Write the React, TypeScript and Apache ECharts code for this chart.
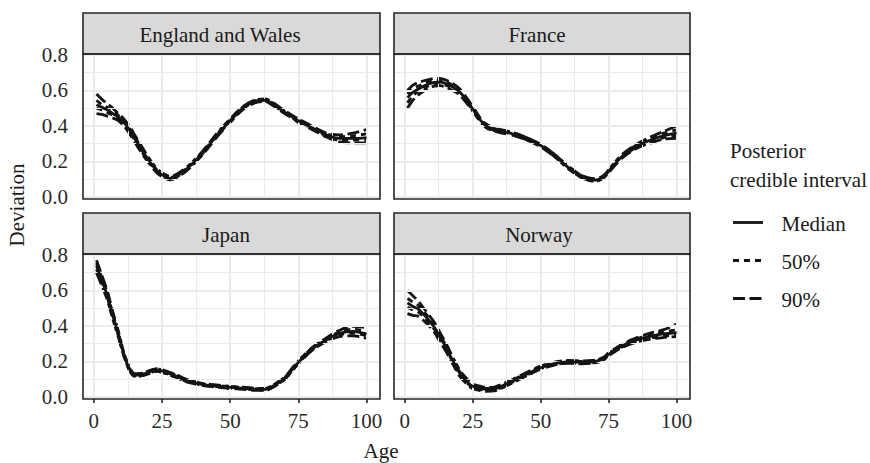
import React, { useEffect, useRef } from "react";
import * as echarts from "echarts";

// ---- data ----
const ages = [1, 3, 5, 7, 9, 11, 13, 15, 17, 20, 23, 25, 28, 30, 33, 35, 40, 45, 50, 55, 60, 63, 65, 70, 73, 75, 80, 85, 90, 95, 100];

const panelNames = ["England and Wales", "France", "Japan", "Norway"];

const ewMedian = [0.52, 0.505, 0.49, 0.47, 0.45, 0.42, 0.38, 0.33, 0.28, 0.21, 0.15, 0.125, 0.105, 0.115, 0.145, 0.17, 0.25, 0.345, 0.43, 0.505, 0.543, 0.545, 0.53, 0.478, 0.45, 0.43, 0.39, 0.352, 0.33, 0.33, 0.335];
const ewLo50 = [0.5, 0.49, 0.475, 0.46, 0.44, 0.41, 0.37, 0.32, 0.27, 0.2, 0.145, 0.12, 0.1, 0.11, 0.14, 0.165, 0.245, 0.34, 0.425, 0.5, 0.538, 0.54, 0.525, 0.473, 0.445, 0.425, 0.385, 0.345, 0.32, 0.32, 0.32];
const ewHi50 = [0.545, 0.52, 0.505, 0.485, 0.46, 0.43, 0.39, 0.34, 0.29, 0.215, 0.155, 0.13, 0.11, 0.12, 0.15, 0.175, 0.255, 0.35, 0.435, 0.51, 0.548, 0.55, 0.535, 0.483, 0.455, 0.435, 0.395, 0.358, 0.34, 0.345, 0.355];
const ewLo90 = [0.47, 0.465, 0.455, 0.445, 0.43, 0.4, 0.36, 0.31, 0.26, 0.195, 0.138, 0.115, 0.097, 0.105, 0.135, 0.16, 0.24, 0.335, 0.42, 0.497, 0.535, 0.538, 0.522, 0.47, 0.442, 0.42, 0.38, 0.34, 0.31, 0.305, 0.305];
const ewHi90 = [0.58, 0.55, 0.525, 0.5, 0.47, 0.44, 0.4, 0.35, 0.3, 0.225, 0.162, 0.137, 0.115, 0.125, 0.155, 0.18, 0.26, 0.355, 0.44, 0.513, 0.55, 0.553, 0.538, 0.486, 0.458, 0.44, 0.4, 0.362, 0.35, 0.36, 0.38];

const frMedian = [0.56, 0.59, 0.608, 0.625, 0.638, 0.645, 0.647, 0.64, 0.625, 0.595, 0.54, 0.496, 0.43, 0.4, 0.38, 0.372, 0.355, 0.327, 0.29, 0.235, 0.168, 0.135, 0.115, 0.095, 0.112, 0.145, 0.23, 0.283, 0.318, 0.345, 0.36];
const frLo50 = [0.53, 0.57, 0.595, 0.612, 0.627, 0.635, 0.637, 0.63, 0.615, 0.585, 0.532, 0.489, 0.424, 0.394, 0.374, 0.366, 0.349, 0.321, 0.284, 0.229, 0.162, 0.129, 0.109, 0.089, 0.106, 0.139, 0.224, 0.278, 0.31, 0.333, 0.345];
const frHi50 = [0.58, 0.61, 0.625, 0.638, 0.65, 0.655, 0.657, 0.65, 0.635, 0.605, 0.548, 0.503, 0.436, 0.406, 0.386, 0.378, 0.361, 0.333, 0.296, 0.241, 0.174, 0.141, 0.121, 0.101, 0.118, 0.151, 0.236, 0.29, 0.327, 0.358, 0.378];
const frLo90 = [0.5, 0.545, 0.575, 0.597, 0.615, 0.625, 0.627, 0.62, 0.605, 0.577, 0.525, 0.483, 0.42, 0.39, 0.371, 0.363, 0.347, 0.32, 0.283, 0.228, 0.161, 0.128, 0.108, 0.088, 0.105, 0.137, 0.22, 0.272, 0.302, 0.325, 0.33];
const frHi90 = [0.6, 0.63, 0.645, 0.655, 0.662, 0.668, 0.668, 0.66, 0.645, 0.613, 0.555, 0.51, 0.44, 0.41, 0.389, 0.381, 0.363, 0.334, 0.297, 0.242, 0.175, 0.142, 0.122, 0.102, 0.119, 0.153, 0.24, 0.295, 0.335, 0.368, 0.4];

const jpMedian = [0.74, 0.655, 0.57, 0.458, 0.355, 0.242, 0.16, 0.124, 0.125, 0.138, 0.152, 0.147, 0.13, 0.12, 0.098, 0.088, 0.07, 0.062, 0.054, 0.049, 0.043, 0.043, 0.055, 0.105, 0.16, 0.195, 0.27, 0.32, 0.358, 0.37, 0.355];
const jpLo50 = [0.72, 0.64, 0.557, 0.447, 0.346, 0.235, 0.154, 0.118, 0.119, 0.132, 0.146, 0.141, 0.124, 0.114, 0.093, 0.083, 0.066, 0.058, 0.05, 0.045, 0.039, 0.039, 0.051, 0.1, 0.155, 0.19, 0.265, 0.314, 0.35, 0.36, 0.345];
const jpHi50 = [0.755, 0.67, 0.583, 0.469, 0.364, 0.249, 0.166, 0.13, 0.131, 0.144, 0.158, 0.153, 0.136, 0.126, 0.103, 0.093, 0.074, 0.066, 0.058, 0.053, 0.047, 0.047, 0.059, 0.11, 0.165, 0.2, 0.275, 0.326, 0.366, 0.382, 0.37];
const jpLo90 = [0.7, 0.625, 0.545, 0.437, 0.338, 0.232, 0.151, 0.116, 0.117, 0.13, 0.144, 0.139, 0.122, 0.112, 0.091, 0.081, 0.064, 0.056, 0.048, 0.043, 0.037, 0.037, 0.049, 0.098, 0.152, 0.187, 0.262, 0.31, 0.34, 0.345, 0.33];
const jpHi90 = [0.77, 0.685, 0.595, 0.479, 0.372, 0.252, 0.169, 0.132, 0.133, 0.146, 0.16, 0.155, 0.138, 0.128, 0.105, 0.095, 0.076, 0.068, 0.06, 0.055, 0.049, 0.049, 0.061, 0.112, 0.168, 0.203, 0.278, 0.33, 0.375, 0.398, 0.39];

const noMedian = [0.53, 0.51, 0.495, 0.465, 0.43, 0.39, 0.336, 0.285, 0.225, 0.14, 0.085, 0.06, 0.048, 0.043, 0.045, 0.056, 0.092, 0.13, 0.165, 0.188, 0.198, 0.197, 0.195, 0.2, 0.215, 0.24, 0.288, 0.32, 0.34, 0.355, 0.362];
const noLo50 = [0.505, 0.49, 0.478, 0.45, 0.417, 0.378, 0.325, 0.275, 0.216, 0.132, 0.078, 0.054, 0.042, 0.037, 0.039, 0.05, 0.086, 0.124, 0.159, 0.182, 0.192, 0.191, 0.189, 0.194, 0.209, 0.234, 0.282, 0.313, 0.33, 0.343, 0.348];
const noHi50 = [0.555, 0.535, 0.515, 0.482, 0.445, 0.402, 0.347, 0.295, 0.234, 0.148, 0.092, 0.066, 0.054, 0.049, 0.051, 0.062, 0.098, 0.136, 0.171, 0.194, 0.204, 0.203, 0.201, 0.206, 0.221, 0.246, 0.294, 0.327, 0.35, 0.368, 0.378];
const noLo90 = [0.47, 0.46, 0.455, 0.43, 0.4, 0.362, 0.31, 0.262, 0.205, 0.122, 0.07, 0.047, 0.036, 0.032, 0.034, 0.045, 0.082, 0.12, 0.156, 0.18, 0.19, 0.189, 0.187, 0.192, 0.207, 0.232, 0.279, 0.308, 0.325, 0.335, 0.34];
const noHi90 = [0.6, 0.57, 0.54, 0.5, 0.46, 0.418, 0.362, 0.308, 0.245, 0.158, 0.1, 0.073, 0.06, 0.054, 0.056, 0.067, 0.102, 0.14, 0.174, 0.196, 0.206, 0.205, 0.203, 0.208, 0.223, 0.248, 0.297, 0.332, 0.358, 0.378, 0.41];

const panelData = [
  { median: ewMedian, lo50: ewLo50, hi50: ewHi50, lo90: ewLo90, hi90: ewHi90 },
  { median: frMedian, lo50: frLo50, hi50: frHi50, lo90: frLo90, hi90: frHi90 },
  { median: jpMedian, lo50: jpLo50, hi50: jpHi50, lo90: jpLo90, hi90: jpHi90 },
  { median: noMedian, lo50: noLo50, hi50: noHi50, lo90: noLo90, hi90: noHi90 },
];

const xTicks = [0, 25, 50, 75, 100];
const xMinor = [12.5, 37.5, 62.5, 87.5];
const yTicks = [0, 0.2, 0.4, 0.6, 0.8];
const yMinor = [0.1, 0.3, 0.5, 0.7];
const legendLabels = ["Median", "50%", "90%"];

// ---- layout / style ----
const FONT = "'Liberation Serif', 'Times New Roman', serif";
const FS = 21;
const INK = "#1a1a1a";
const BORDER = "#262626";
const GRIDC = "#EBEBEB";
const LINEC = "#141414";
const LW = 2.8;
const DASH50 = [6, 5];
const DASH90 = [12, 4.5];

const panels = [
  { left: 83, top: 54, width: 297, height: 145, labelX: 220 },
  { left: 394, top: 54, width: 296, height: 145, labelX: 537 },
  { left: 83, top: 254, width: 297, height: 145, labelX: 226 },
  { left: 394, top: 254, width: 296, height: 145, labelX: 539 },
];
const STRIP_H = 41;
const X_MIN = -3.95;
const X_MAX = 104.95;
const Y_MIN = -0.0113;
const Y_MAX = 0.8056;

function buildOption() {
  const grid: any[] = [];
  const xAxis: any[] = [];
  const yAxis: any[] = [];
  const series: any[] = [];
  const graphic: any[] = [];

  panels.forEach((p, i) => {
    const isBottom = i >= 2;
    const isLeft = i % 2 === 0;
    grid.push({ left: p.left, top: p.top, width: p.width, height: p.height, show: false, containLabel: false });
    xAxis.push({
      gridIndex: i,
      type: "value",
      min: X_MIN,
      max: X_MAX,
      axisLine: { show: false },
      splitLine: { show: false },
      axisTick: { show: isBottom, customValues: xTicks, length: 6, lineStyle: { color: BORDER, width: 1.6 } },
      axisLabel: {
        show: isBottom,
        customValues: xTicks,
        margin: 22,
        verticalAlign: "middle",
        fontFamily: FONT,
        fontSize: FS,
        color: "#2a2a2a",
      },
    });
    yAxis.push({
      gridIndex: i,
      type: "value",
      min: Y_MIN,
      max: Y_MAX,
      axisLine: { show: false },
      splitLine: { show: false },
      axisTick: { show: isLeft, customValues: yTicks, length: 6, lineStyle: { color: BORDER, width: 1.6 } },
      axisLabel: {
        show: isLeft,
        customValues: yTicks,
        margin: 15,
        fontFamily: FONT,
        fontSize: FS,
        color: "#2a2a2a",
        formatter: (v: number) => v.toFixed(1),
      },
    });

    // grid lines as mark lines of an empty helper series
    const gl: any[] = [];
    xMinor.forEach((v) => gl.push({ xAxis: v, lineStyle: { color: GRIDC, width: 1, type: "solid" } }));
    yMinor.forEach((v) => gl.push({ yAxis: v, lineStyle: { color: GRIDC, width: 1, type: "solid" } }));
    xTicks.forEach((v) => gl.push({ xAxis: v, lineStyle: { color: GRIDC, width: 2, type: "solid" } }));
    yTicks.forEach((v) => gl.push({ yAxis: v, lineStyle: { color: GRIDC, width: 2, type: "solid" } }));
    series.push({
      type: "line",
      xAxisIndex: i,
      yAxisIndex: i,
      data: [],
      silent: true,
      z: 1,
      markLine: {
        silent: true,
        symbol: ["none", "none"],
        label: { show: false },
        emphasis: { disabled: true },
        animation: false,
        data: gl,
      },
    });

    const d = panelData[i];
    const mk = (name: string, vals: number[], type: any, z: number) => ({
      type: "line",
      name,
      xAxisIndex: i,
      yAxisIndex: i,
      data: ages.map((a, k) => [a, vals[k]]),
      showSymbol: false,
      symbol: "none",
      smooth: 0.3,
      silent: true,
      z,
      lineStyle: { color: LINEC, width: LW, type },
    });
    series.push(mk("90%", d.lo90, DASH90, 3));
    series.push(mk("90%", d.hi90, DASH90, 3));
    series.push(mk("50%", d.lo50, DASH50, 4));
    series.push(mk("50%", d.hi50, DASH50, 4));
    series.push(mk("Median", d.median, "solid", 5));

    // strip
    graphic.push({
      type: "rect",
      silent: true,
      z: 100,
      shape: { x: p.left, y: p.top - STRIP_H, width: p.width, height: STRIP_H },
      style: { fill: "#D9D9D9", stroke: BORDER, lineWidth: 1.6 },
    });
    graphic.push({
      type: "text",
      silent: true,
      z: 101,
      x: p.labelX,
      y: p.top - STRIP_H / 2 + 1,
      style: {
        text: panelNames[i],
        fontFamily: FONT,
        fontSize: FS,
        fill: INK,
        textAlign: "center",
        textVerticalAlign: "middle",
      },
    });
    // panel border
    graphic.push({
      type: "rect",
      silent: true,
      z: 100,
      shape: { x: p.left, y: p.top, width: p.width, height: p.height },
      style: { fill: "none", stroke: BORDER, lineWidth: 1.6 },
    });
  });

  // axis titles
  graphic.push({
    type: "text",
    silent: true,
    x: 17,
    y: 205,
    rotation: Math.PI / 2,
    style: { text: "Deviation", fontFamily: FONT, fontSize: FS, fill: INK, textAlign: "center", textVerticalAlign: "middle" },
  });
  graphic.push({
    type: "text",
    silent: true,
    x: 381,
    y: 451,
    style: { text: "Age", fontFamily: FONT, fontSize: FS, fill: INK, textAlign: "center", textVerticalAlign: "middle" },
  });

  // legend
  graphic.push({
    type: "text",
    silent: true,
    x: 730,
    y: 151,
    style: { text: "Posterior", fontFamily: FONT, fontSize: FS, fill: INK, textAlign: "left", textVerticalAlign: "middle" },
  });
  graphic.push({
    type: "text",
    silent: true,
    x: 730,
    y: 180,
    style: { text: "credible interval", fontFamily: FONT, fontSize: FS, fill: INK, textAlign: "left", textVerticalAlign: "middle" },
  });
  const keyDash: any[] = [null, DASH50, DASH90];
  const keyY = [222.5, 260.5, 298.5];
  legendLabels.forEach((lab, k) => {
    graphic.push({
      type: "line",
      silent: true,
      shape: { x1: 733, y1: keyY[k], x2: 763, y2: keyY[k] },
      style: { stroke: LINEC, lineWidth: 2.8, lineDash: keyDash[k] || undefined },
    });
    graphic.push({
      type: "text",
      silent: true,
      x: 781.5,
      y: keyY[k] + 1,
      style: { text: lab, fontFamily: FONT, fontSize: FS, fill: INK, textAlign: "left", textVerticalAlign: "middle" },
    });
  });

  return {
    animation: false,
    backgroundColor: "#ffffff",
    grid,
    xAxis,
    yAxis,
    series,
    graphic: { elements: graphic },
  };
}

export default function App() {
  const ref = useRef<HTMLDivElement>(null);
  useEffect(() => {
    if (!ref.current) return;
    const chart = echarts.init(ref.current, undefined, { renderer: "svg" });
    chart.setOption(buildOption() as any);
    return () => chart.dispose();
  }, []);
  return <div ref={ref} style={{ position: "fixed", left: 0, top: 0, width: 870, height: 463, background: "#fff" }} />;
}
